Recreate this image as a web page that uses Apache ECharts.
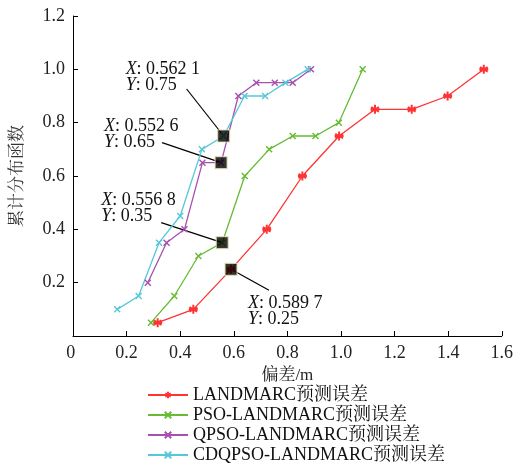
<!DOCTYPE html>
<html>
<head>
<meta charset="utf-8">
<script src="https://cdn.jsdelivr.net/npm/echarts@6/dist/echarts.min.js"></script>
<style>html,body{margin:0;padding:0;background:#fff}#c{width:516px;height:465px}</style>
</head>
<body>
<div id="c"></div>
<script>
var seriesNames = ['LANDMARC预测误差', 'PSO-LANDMARC预测误差', 'QPSO-LANDMARC预测误差', 'CDQPSO-LANDMARC预测误差'];
var landmarcX = [0.316, 0.449, 0.5897, 0.723, 0.856, 0.993, 1.127, 1.264, 1.398, 1.533];
var landmarcY = [0.05, 0.10, 0.25, 0.40, 0.60, 0.75, 0.85, 0.85, 0.90, 1.00];
var psoX = [0.291, 0.378, 0.468, 0.5568, 0.641, 0.732, 0.820, 0.905, 0.992, 1.081];
var psoY = [0.05, 0.15, 0.30, 0.35, 0.60, 0.70, 0.75, 0.75, 0.80, 1.00];
var qpsoX = [0.279, 0.349, 0.416, 0.483, 0.5526, 0.617, 0.684, 0.753, 0.820, 0.888];
var qpsoY = [0.20, 0.35, 0.40, 0.65, 0.65, 0.90, 0.95, 0.95, 0.95, 1.00];
var cdqpsoX = [0.165, 0.245, 0.321, 0.400, 0.481, 0.5621, 0.640, 0.717, 0.793, 0.876];
var cdqpsoY = [0.10, 0.15, 0.35, 0.45, 0.70, 0.75, 0.90, 0.90, 0.95, 1.00];
var annX = [0.5621, 0.5526, 0.5568, 0.5897];
var annY = [0.75, 0.65, 0.35, 0.25];
var xTicks = [0, 0.2, 0.4, 0.6, 0.8, 1.0, 1.2, 1.4, 1.6];
var yTicks = [0, 0.2, 0.4, 0.6, 0.8, 1.0, 1.2];

var FONT = '"Liberation Serif", "Noto Serif CJK SC", "Noto Sans CJK SC", serif';
var colors = ['#ff3333', '#66bb33', '#a650b0', '#55c8d8'];
var xSym = 'path://M0,0L10,10M10,0L0,10';
var starSym = 'path://M5,0L5,10M0.7,2.5L9.3,7.5M0.7,7.5L9.3,2.5M0,5L10,5';

function zip(a, b) { return a.map(function (v, i) { return [v, b[i]]; }); }
var allX = [landmarcX, psoX, qpsoX, cdqpsoX];
var allY = [landmarcY, psoY, qpsoY, cdqpsoY];

var series = seriesNames.map(function (n, i) {
  return {
    name: n, type: 'line', data: zip(allX[i], allY[i]),
    symbol: i === 0 ? starSym : xSym,
    symbolSize: i === 0 ? 9 : 6,
    lineStyle: { color: colors[i], width: 1.3 },
    itemStyle: { color: 'none', borderColor: colors[i], borderWidth: i === 0 ? 2 : 1.4 },
    emphasis: { disabled: true }, z: 3
  };
});
series.push({
  type: 'scatter', data: zip(annX, annY), symbol: 'rect', symbolSize: 12,
  itemStyle: { color: '#000', borderColor: '#e6dfb0', borderWidth: 1.2 },
  z: 5, silent: true
});

var chart = echarts.init(document.getElementById('c'), null, { renderer: 'canvas' });
chart.setOption({
  animation: false,
  backgroundColor: '#fff',
  grid: { left: 73, right: 12, top: 16, bottom: 129, containLabel: false },
  xAxis: {
    type: 'value', min: 0, max: 1.6, interval: 0.2,
    name: '偏差/m', nameLocation: 'middle', nameGap: 23,
    nameTextStyle: { fontFamily: FONT, fontSize: 17, color: '#222' },
    axisLine: { show: true, lineStyle: { color: '#000', width: 1 } },
    axisTick: { show: true, inside: true, length: 5, lineStyle: { color: '#000' } },
    axisLabel: { fontFamily: FONT, fontSize: 18, color: '#222', margin: 8,
      formatter: function (v) { return v === 0 ? '0 ' : v.toFixed(1); } },
    splitLine: { show: false }
  },
  yAxis: {
    type: 'value', min: 0, max: 1.2, interval: 0.2,
    name: '累计分布函数', nameLocation: 'middle', nameGap: 47, nameRotate: 90,
    nameTextStyle: { fontFamily: FONT, fontSize: 17, color: '#333' },
    axisLine: { show: true, lineStyle: { color: '#000', width: 1 } },
    axisTick: { show: true, inside: true, length: 5, lineStyle: { color: '#000' } },
    axisLabel: { fontFamily: FONT, fontSize: 18, color: '#222', margin: 8,
      formatter: function (v) { return v === 0 ? '' : v.toFixed(1); } },
    splitLine: { show: false }
  },
  legend: {
    orient: 'vertical', left: 147, top: 386, padding: 0, itemWidth: 40, itemHeight: 8, itemGap: 2,
    height: 79,
    data: seriesNames,
    textStyle: { fontFamily: FONT, fontSize: 18, color: '#111', lineHeight: 18 },
    selectedMode: false
  },
  series: series
});

// annotations: offsets relative to the marked point
var annLayout = [
  { tx: -98, ty: -75, lx: -37, ly: -47 },
  { tx: -117, ty: -44, lx: -59, ly: -20 },
  { tx: -121, ty: -50, lx: -61, ly: -20 },
  { tx: 17, ty: 26, lx: 38, ly: 21 }
];
function fmtX(v) { var s = v.toFixed(4); return s.slice(0, 5) + ' ' + s.slice(5); }
var graphics = [];
annX.forEach(function (x, i) {
  var p = chart.convertToPixel({ xAxisIndex: 0, yAxisIndex: 0 }, [x, annY[i]]);
  var L = annLayout[i];
  graphics.push({
    type: 'line', z: 1,
    shape: { x1: p[0] + L.lx, y1: p[1] + L.ly, x2: p[0], y2: p[1] },
    style: { stroke: '#000', lineWidth: 1.2 }
  });
  graphics.push({
    type: 'text', z: 10, x: p[0] + L.tx, y: p[1] + L.ty,
    style: {
      text: '{it|X}: ' + fmtX(x) + '\n{it|Y}: ' + annY[i].toFixed(2),
      fontFamily: FONT, fontSize: 18, fill: '#111', lineHeight: 16,
      rich: { it: { fontStyle: 'italic', fontFamily: FONT, fontSize: 18, lineHeight: 16 } }
    }
  });
});
chart.setOption({ graphic: graphics });
</script>
</body>
</html>
